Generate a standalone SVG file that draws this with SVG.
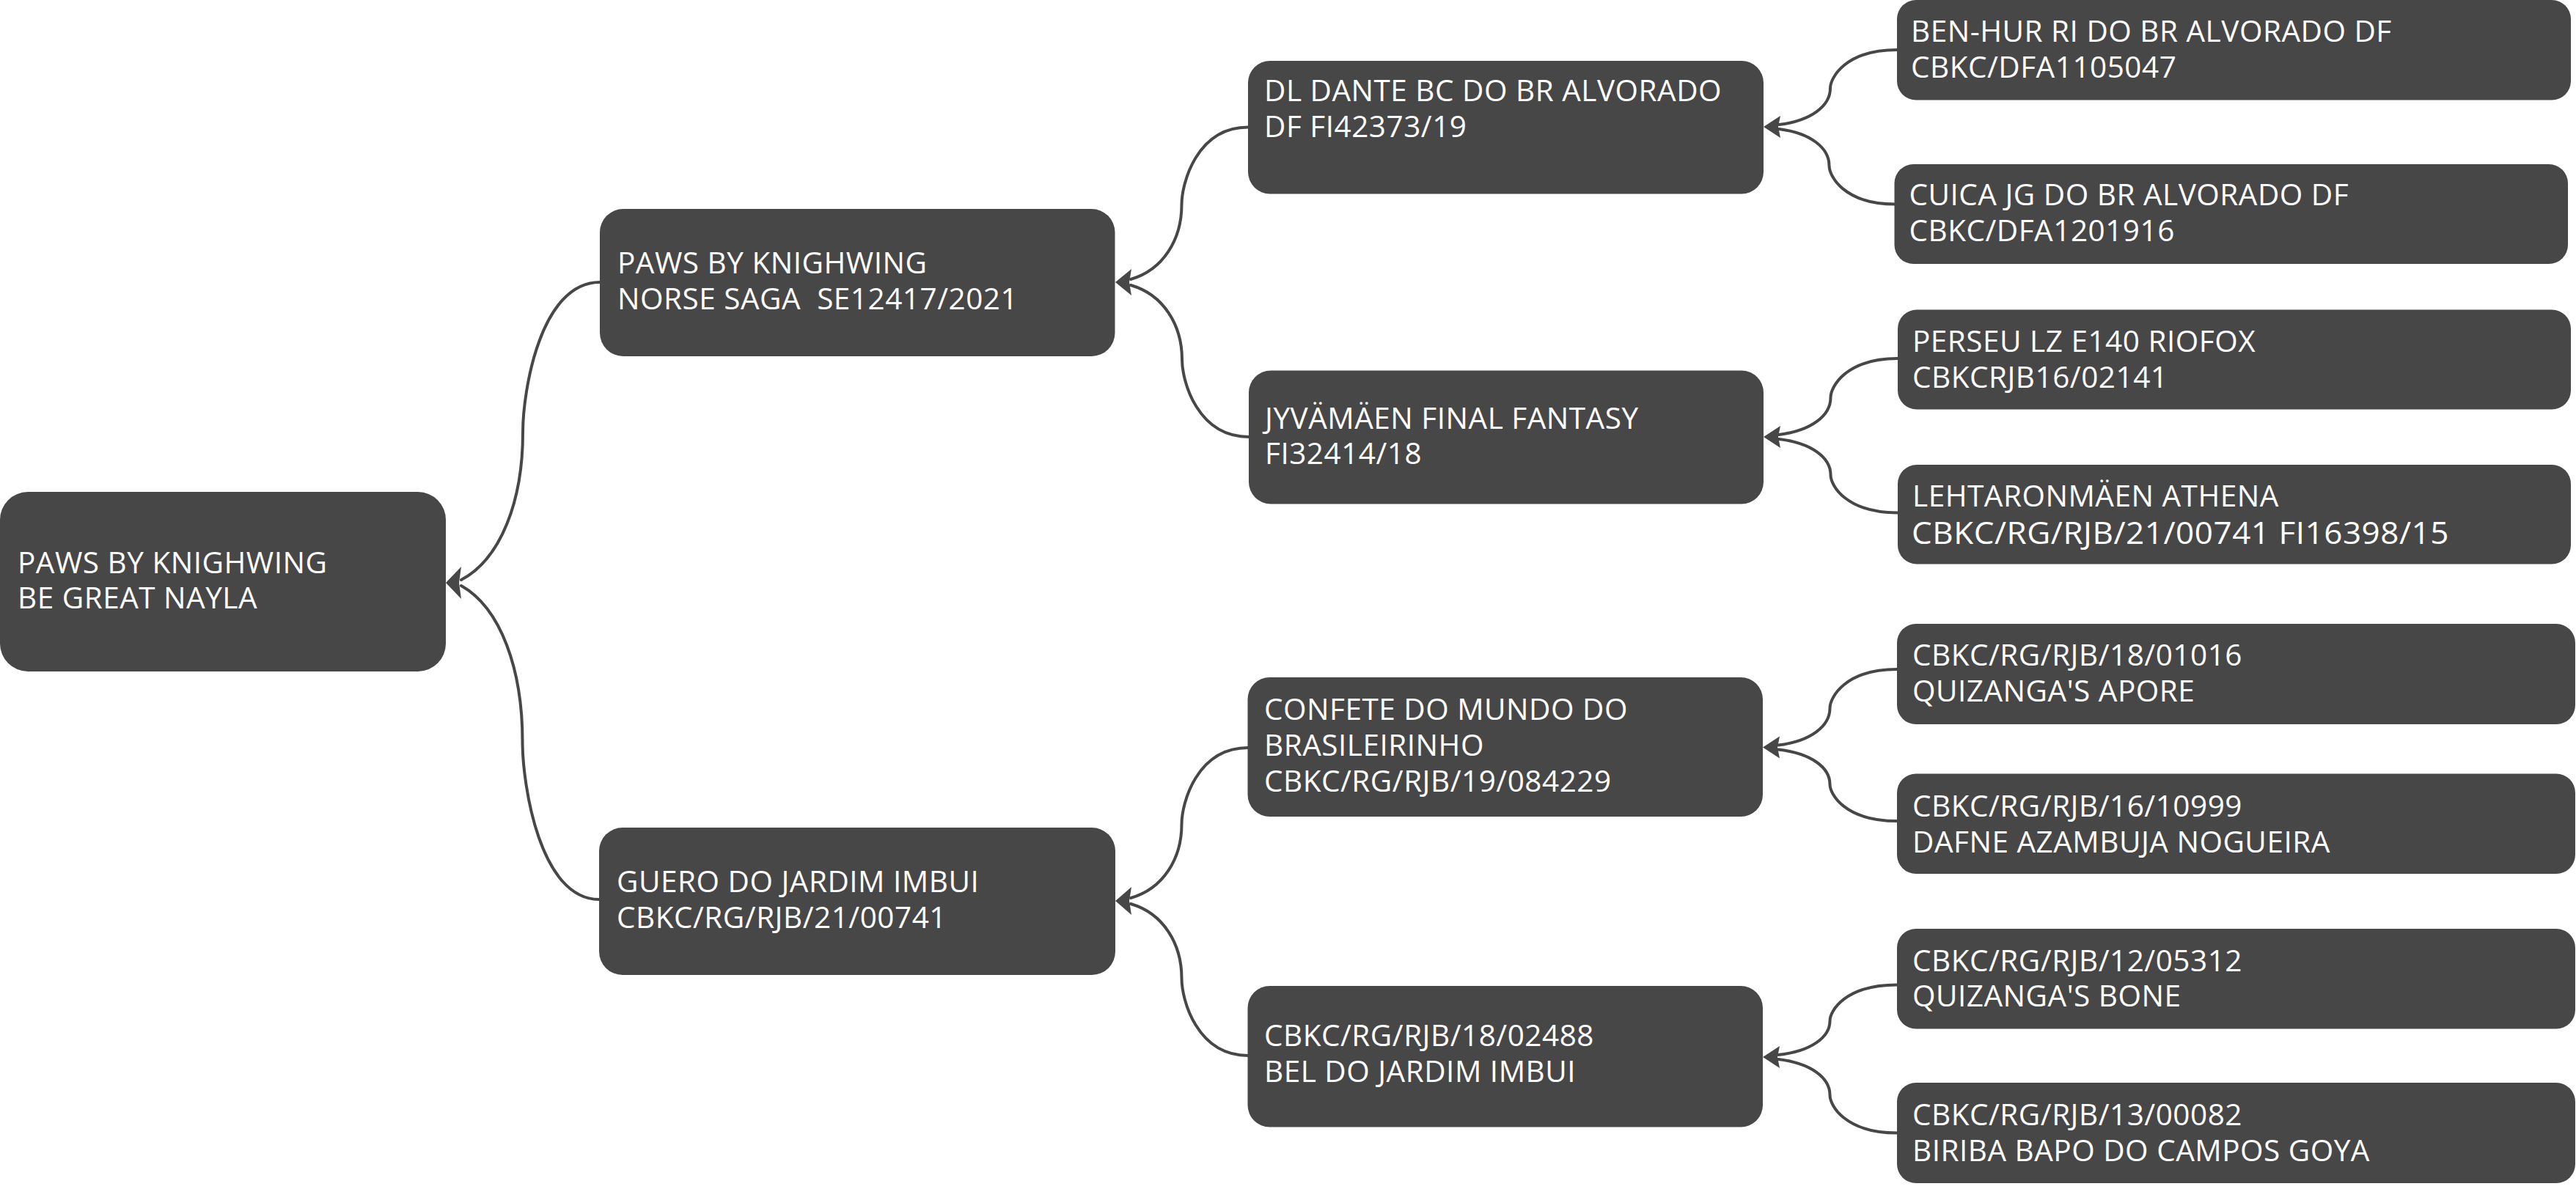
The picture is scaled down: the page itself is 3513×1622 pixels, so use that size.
<svg xmlns="http://www.w3.org/2000/svg" width="3513" height="1622" viewBox="0 0 3513 1622">
<style>
.box{fill:#474747}
.t{font-family:"Open Sans","Noto Sans","DejaVu Sans",sans-serif;font-size:40.5px;letter-spacing:0.5px;fill:#ffffff;white-space:pre}
.c{fill:none;stroke:#474747;stroke-width:4;stroke-linecap:round}
.a{fill:#474747}
</style>
<rect width="3513" height="1622" fill="#ffffff"/>
<g id="connectors">
<path class="c" d="M818,385 C737.2,385 713,532.6 713,590 C713,682.3 683.6,762.2 629,791"/>
<path class="c" d="M817,1227 C736.5,1227 712.5,1071.5 712.5,1011 C712.5,913.8 683.2,829.6 629,799"/>
<path class="c" d="M1702,173.5 C1632.3,173.5 1611.5,249.6 1611.5,279.25 C1611.5,326.8 1586.2,368.1 1542,381"/>
<path class="c" d="M1703,596 C1633,596 1612,520 1612,490.5 C1612,443 1586.5,401.9 1542,389"/>
<path class="c" d="M1702,1020 C1632.3,1020 1611.5,1095.2 1611.5,1124.5 C1611.5,1171.5 1586.2,1212.3 1542,1225"/>
<path class="c" d="M1702,1440 C1632.3,1440 1611.5,1364 1611.5,1334.5 C1611.5,1287 1586.2,1245.9 1542,1233"/>
<path class="c" d="M2587,68 C2517,68 2496,105.8 2496,120.5 C2496,144.1 2470.5,164.6 2426,170"/>
<path class="c" d="M2584,278.5 C2515.1,278.5 2494.5,240.5 2494.5,225.75 C2494.5,202 2469.4,181.4 2426,176"/>
<path class="c" d="M2588,489 C2517.5,489 2496.5,527.5 2496.5,542.5 C2496.5,566.6 2470.9,587.4 2426,593"/>
<path class="c" d="M2588,699.5 C2517.5,699.5 2496.5,662.2 2496.5,647.75 C2496.5,624.5 2470.9,604.3 2426,599"/>
<path class="c" d="M2587,913 C2516.5,913 2495.5,951.3 2495.5,966.25 C2495.5,990.2 2469.9,1011 2425,1016.5"/>
<path class="c" d="M2587,1120 C2516.5,1120 2495.5,1083.8 2495.5,1069.75 C2495.5,1047.1 2469.9,1027.5 2425,1022.5"/>
<path class="c" d="M2587,1343.4 C2516.5,1343.4 2495.5,1378.9 2495.5,1392.7 C2495.5,1414.9 2469.9,1434.1 2425,1439"/>
<path class="c" d="M2587,1545.5 C2516.5,1545.5 2495.5,1508.2 2495.5,1493.75 C2495.5,1470.5 2469.9,1450.3 2425,1445"/>
<polygon class="a" points="608,795 629,773 626,795 629,817"/>
<polygon class="a" points="1521,385 1543,367 1540,385 1543,403"/>
<polygon class="a" points="1521,1229 1543,1210 1540,1229 1543,1248"/>
<polygon class="a" points="2405,173 2428,158 2425,173 2428,188"/>
<polygon class="a" points="2405,596 2428,581 2425,596 2428,611"/>
<polygon class="a" points="2404,1019.5 2427,1004.5 2424,1019.5 2427,1034.5"/>
<polygon class="a" points="2404,1442 2427,1427 2424,1442 2427,1457"/>
</g>
<g id="n-root">
<rect class="box" x="0" y="671" width="608" height="245" rx="38"/>
<text class="t" x="24" y="782">PAWS BY KNIGHWING</text>
<text class="t" x="24" y="830">BE GREAT NAYLA</text>
</g>
<g id="n-paws-norse">
<rect class="box" x="818" y="285" width="702.5" height="201" rx="32"/>
<text class="t" x="842" y="373">PAWS BY KNIGHWING</text>
<text class="t" x="842" y="422">NORSE SAGA  SE12417/2021</text>
</g>
<g id="n-guero">
<rect class="box" x="817" y="1129" width="704" height="201" rx="32"/>
<text class="t" x="841" y="1217">GUERO DO JARDIM IMBUI</text>
<text class="t" x="841" y="1266">CBKC/RG/RJB/21/00741</text>
</g>
<g id="n-dante">
<rect class="box" x="1702" y="83" width="703" height="181.5" rx="30"/>
<text class="t" x="1724" y="138">DL DANTE BC DO BR ALVORADO</text>
<text class="t" x="1724" y="186.5">DF FI42373/19</text>
</g>
<g id="n-jyvamaen">
<rect class="box" x="1703" y="505.5" width="702" height="182" rx="30"/>
<text class="t" x="1725" y="584.5">JYVÄMÄEN FINAL FANTASY</text>
<text class="t" x="1725" y="633">FI32414/18</text>
</g>
<g id="n-confete">
<rect class="box" x="1701.5" y="924" width="702.5" height="190" rx="30"/>
<text class="t" x="1724" y="982">CONFETE DO MUNDO DO</text>
<text class="t" x="1724" y="1031">BRASILEIRINHO</text>
<text class="t" x="1724" y="1080">CBKC/RG/RJB/19/084229</text>
</g>
<g id="n-bel">
<rect class="box" x="1701.5" y="1345" width="702.5" height="192.5" rx="30"/>
<text class="t" x="1724" y="1427">CBKC/RG/RJB/18/02488</text>
<text class="t" x="1724" y="1476">BEL DO JARDIM IMBUI</text>
</g>
<g id="n-benhur">
<rect class="box" x="2587" y="0" width="919" height="136.5" rx="26"/>
<text class="t" x="2606" y="56.5">BEN-HUR RI DO BR ALVORADO DF</text>
<text class="t" x="2606" y="105.5">CBKC/DFA1105047</text>
</g>
<g id="n-cuica">
<rect class="box" x="2583.5" y="224" width="918.5" height="136" rx="26"/>
<text class="t" x="2603.5" y="280">CUICA JG DO BR ALVORADO DF</text>
<text class="t" x="2603.5" y="328.5">CBKC/DFA1201916</text>
</g>
<g id="n-perseu">
<rect class="box" x="2588" y="422.5" width="918" height="136" rx="26"/>
<text class="t" x="2608" y="480">PERSEU LZ E140 RIOFOX</text>
<text class="t" x="2608" y="528.5">CBKCRJB16/02141</text>
</g>
<g id="n-lehtaronmaen">
<rect class="box" x="2588" y="634" width="918" height="135.5" rx="26"/>
<text class="t" x="2608" y="690.5">LEHTARONMÄEN ATHENA</text>
<text class="t" x="2607" y="741.5" style="font-size:42px" textLength="733" lengthAdjust="spacingAndGlyphs">CBKC/RG/RJB/21/00741 FI16398/15</text>
</g>
<g id="n-apore">
<rect class="box" x="2587" y="851" width="925" height="137" rx="26"/>
<text class="t" x="2608" y="907.5">CBKC/RG/RJB/18/01016</text>
<text class="t" x="2608" y="956.5">QUIZANGA'S APORE</text>
</g>
<g id="n-dafne">
<rect class="box" x="2587" y="1055.5" width="925" height="136.5" rx="26"/>
<text class="t" x="2608" y="1114">CBKC/RG/RJB/16/10999</text>
<text class="t" x="2608" y="1162.5">DAFNE AZAMBUJA NOGUEIRA</text>
</g>
<g id="n-bone">
<rect class="box" x="2587" y="1267" width="925" height="136.5" rx="26"/>
<text class="t" x="2608" y="1324.5">CBKC/RG/RJB/12/05312</text>
<text class="t" x="2608" y="1373">QUIZANGA'S BONE</text>
</g>
<g id="n-biriba">
<rect class="box" x="2587" y="1477" width="925" height="137" rx="26"/>
<text class="t" x="2608" y="1535">CBKC/RG/RJB/13/00082</text>
<text class="t" x="2608" y="1584">BIRIBA BAPO DO CAMPOS GOYA</text>
</g>
</svg>
